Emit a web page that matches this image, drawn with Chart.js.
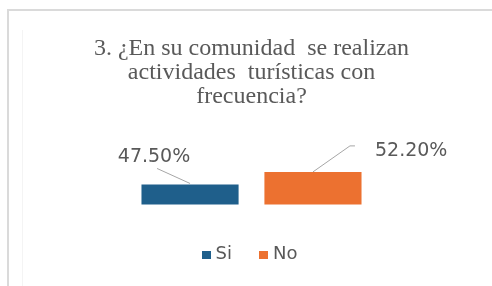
<!DOCTYPE html>
<html>
<head>
<meta charset="utf-8">
<script src="https://cdn.jsdelivr.net/npm/chart.js@4"></script>
<style>
  html, body { margin: 0; padding: 0; background: #fff; }
  #wrap { position: relative; width: 492px; height: 286px; overflow: hidden; }
  #marco { position: absolute; left: 7px; top: 9px; right: -10px; bottom: -10px;
           border-top: 2px solid #dadada; border-left: 2px solid #dadada; }
  #marco2 { position: absolute; left: 22px; top: 30px; width: 1px; bottom: 0; background: #f4f4f4; }
  canvas { position: absolute; left: 0; top: 0; }
</style>
</head>
<body>
<div id="wrap">
  <div id="marco"></div>
  <div id="marco2"></div>
  <canvas id="grafico" width="492" height="286"></canvas>
</div>
<script>
const categorias = [''];
const series = ['Si', 'No'];
const valores = [47.5, 52.2];
const etiquetas = ['47.50%', '52.20%'];
const titulo = ['3. ¿En su comunidad  se realizan', 'actividades  turísticas con', 'frecuencia?'];

const colores = ['#1f5f8b', '#ec7130'];
const gris = '#595959';

// posición de cada etiqueta respecto a la parte superior de su barra
const guias = [
  { texto: [-36, -27], alinear: 'center', linea: [[-33, -16], [0, -1]] },
  { texto: [62, -21], alinear: 'left', linea: [[0, 0], [37, -26], [42, -26]] }
];

// cuadrito de la leyenda, pegado al texto como en Excel
function cuadro(color) {
  const c = document.createElement('canvas');
  c.width = 9; c.height = 8;
  const g = c.getContext('2d');
  g.fillStyle = color;
  g.fillRect(0, 0, 9, 8);
  return c;
}
const cuadros = colores.map(cuadro);

const etiquetasPlugin = {
  id: 'etiquetas',
  afterDatasetsDraw(chart) {
    const ctx = chart.ctx;
    ctx.save();
    chart.data.datasets.forEach((ds, i) => {
      const bar = chart.getDatasetMeta(i).data[0];
      const g = guias[i];
      ctx.strokeStyle = '#a6a6a6';
      ctx.lineWidth = 1;
      ctx.beginPath();
      g.linea.forEach((p, j) => {
        const x = bar.x + p[0], y = bar.y + p[1];
        if (j === 0) ctx.moveTo(x, y); else ctx.lineTo(x, y);
      });
      ctx.stroke();
      ctx.fillStyle = gris;
      ctx.font = '19px "DejaVu Sans"';
      ctx.textAlign = g.alinear;
      ctx.textBaseline = 'middle';
      ctx.fillText(etiquetas[i], bar.x + g.texto[0], bar.y + g.texto[1]);
    });
    ctx.restore();
  }
};

new Chart(document.getElementById('grafico'), {
  type: 'bar',
  data: {
    labels: categorias,
    datasets: series.map((s, i) => ({
      label: s,
      data: [valores[i]],
      backgroundColor: colores[i],
      pointStyle: cuadros[i],
      categoryPercentage: 0.555,
      barPercentage: 0.79
    }))
  },
  options: {
    responsive: false,
    animation: false,
    layout: { padding: { top: 37, bottom: 12.5, left: 30, right: 19 } },
    scales: {
      x: { display: false },
      y: { display: false, min: 40, max: 72 }
    },
    plugins: {
      title: {
        display: true,
        text: titulo,
        color: gris,
        font: { family: '"Liberation Serif", serif', size: 24, weight: 'normal', lineHeight: 1.0 },
        padding: { top: 0, bottom: 10 }
      },
      legend: {
        position: 'bottom',
        title: { display: true, text: '', font: { size: 1, lineHeight: 1 }, padding: { top: 9, bottom: 0 } },
        labels: {
          color: gris,
          usePointStyle: true,
          pointStyleWidth: 1,
          padding: 31,
          font: { family: '"DejaVu Sans"', size: 18 }
        }
      },
      tooltip: { enabled: false }
    }
  },
  plugins: [etiquetasPlugin]
});
</script>
</body>
</html>
